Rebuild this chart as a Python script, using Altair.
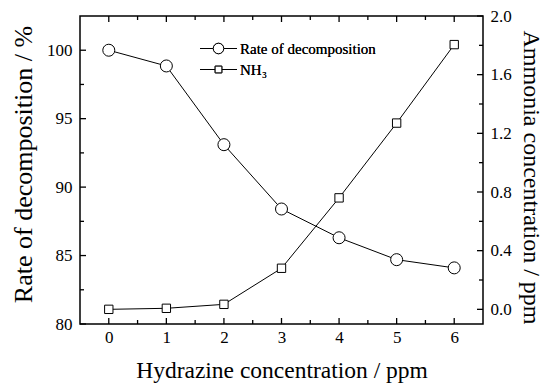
import altair as alt
import pandas as pd

# ---- data ----
hydrazine = [0, 1, 2, 3, 4, 5, 6]
rate = [100.0, 98.85, 93.1, 88.4, 86.3, 84.7, 84.1]
nh3 = [0.0, 0.007, 0.034, 0.28, 0.76, 1.27, 1.805]

x_major = [0, 1, 2, 3, 4, 5, 6]
x_minor = [0.5, 1.5, 2.5, 3.5, 4.5, 5.5]
left_major = [80, 85, 90, 95, 100]
left_minor = [82.5, 87.5, 92.5, 97.5]
right_major = [0.0, 0.4, 0.8, 1.2, 1.6, 2.0]
right_minor = [0.2, 0.6, 1.0, 1.4, 1.8]

legend_labels = ["Rate of decomposition", "NH\u2083"]

W, H = 403, 308
FONT = "Liberation Serif"
MAJ, MIN = 6, 4

df = pd.DataFrame({"x": hydrazine, "rate": rate, "nh3": nh3})

xs = alt.Scale(domain=[-0.5, 6.5], nice=False, zero=False)
yl = alt.Scale(domain=[80, 102.5], nice=False, zero=False)
yr = alt.Scale(domain=[-0.1, 2.0], nice=False, zero=False)

x_axis = alt.Axis(values=x_major, format="d", title="Hydrazine concentration / ppm",
                  labelPadding=5, titleY=53, titleBaseline="alphabetic", titleFontSize=23.5)
yl_axis = alt.Axis(values=left_major, format="d", title="Rate of decomposition / %",
                   labelPadding=8, titleX=-57, titleY=148, titleBaseline="middle",
                   titleAngle=-90, titleFontSize=26)
yr_axis = alt.Axis(orient="right", values=right_major, format=".1f",
                   title="Ammonia concentration / ppm", labelPadding=7, titleX=47,
                   titleY=161, titleAngle=90, titleBaseline="middle", titleFontSize=24)

base = alt.Chart(df)
X = alt.X("x:Q", scale=xs, axis=x_axis)

line_l = base.mark_line(color="black", strokeWidth=1).encode(
    x=X, y=alt.Y("rate:Q", scale=yl, axis=yl_axis))
pts_l = base.mark_point(shape="circle", size=144, filled=True, fill="white",
                        stroke="black", strokeWidth=1, opacity=1).encode(
    x=X, y=alt.Y("rate:Q", scale=yl, axis=yl_axis))

line_r = base.mark_line(color="black", strokeWidth=1).encode(
    x=X, y=alt.Y("nh3:Q", scale=yr, axis=yr_axis))
pts_r = base.mark_point(shape="square", size=70, filled=True, fill="white",
                        stroke="black", strokeWidth=1, opacity=1).encode(
    x=X, y=alt.Y("nh3:Q", scale=yr, axis=yr_axis))


def vticks(vals, length, bottom=True):
    d = pd.DataFrame({"v": vals})
    y0 = H if bottom else 0
    y1 = H - length if bottom else length
    return alt.Chart(d).mark_rule(color="black", strokeWidth=1.3).encode(
        x=alt.X("v:Q", scale=xs, axis=x_axis), y=alt.value(y0), y2=alt.value(y1))


def hticks(vals, scale, axis, length, left=True):
    d = pd.DataFrame({"v": vals})
    x0 = 0 if left else W
    x1 = length if left else W - length
    return alt.Chart(d).mark_rule(color="black", strokeWidth=1.3).encode(
        y=alt.Y("v:Q", scale=scale, axis=axis), x=alt.value(x0), x2=alt.value(x1))


left_ticks = [
    vticks(x_major, MAJ, True), vticks(x_minor, MIN, True),
    vticks(x_major, MAJ, False), vticks(x_minor, MIN, False),
    hticks(left_major, yl, yl_axis, MAJ, True), hticks(left_minor, yl, yl_axis, MIN, True),
]
right_ticks = [hticks(right_major, yr, yr_axis, MAJ, False),
               hticks(right_minor, yr, yr_axis, MIN, False)]

# legend (manual, positioned in plot pixels)
leg_df = pd.DataFrame({"label": legend_labels})
leg_items = []
for i, (lab, shp, sz) in enumerate([(legend_labels[0], "circle", 110), (legend_labels[1], "square", 45)]):
    yy = 32.5 + 21 * i
    leg_items.append(alt.Chart(leg_df).mark_rule(color="black", strokeWidth=1).encode(
        x=alt.value(120), x2=alt.value(157), y=alt.value(yy)))
    leg_items.append(alt.Chart(leg_df).mark_point(shape=shp, size=sz, filled=True, fill="white",
                                                  stroke="black", strokeWidth=1, opacity=1).encode(
        x=alt.value(138.5), y=alt.value(yy)))
    leg_items.append(alt.Chart(leg_df).mark_text(text=lab, font=FONT, fontSize=15, align="left",
                                                 baseline="middle", color="black",
                                                 fontWeight="normal").encode(
        x=alt.value(160), y=alt.value(yy)))

left_layer = alt.layer(line_l, pts_l, *left_ticks, *leg_items)
right_layer = alt.layer(line_r, pts_r, *right_ticks)

chart = alt.layer(left_layer, right_layer).resolve_scale(y="independent").properties(
    width=W, height=H,
    autosize=alt.AutoSizeParams(type="none"),
    padding={"left": 72, "top": 8, "right": 60, "bottom": 60},
    background="white",
).configure_view(stroke="black", strokeWidth=1.5).configure_axis(
    labelFont=FONT, titleFont=FONT, labelFontSize=17, titleFontSize=24,
    titleFontWeight="normal", labelColor="black", titleColor="black",
    ticks=False, tickSize=0, domain=False, grid=False,
).configure_text(font=FONT)

chart.save("out.html", embed_options={"renderer": "svg", "actions": False})
